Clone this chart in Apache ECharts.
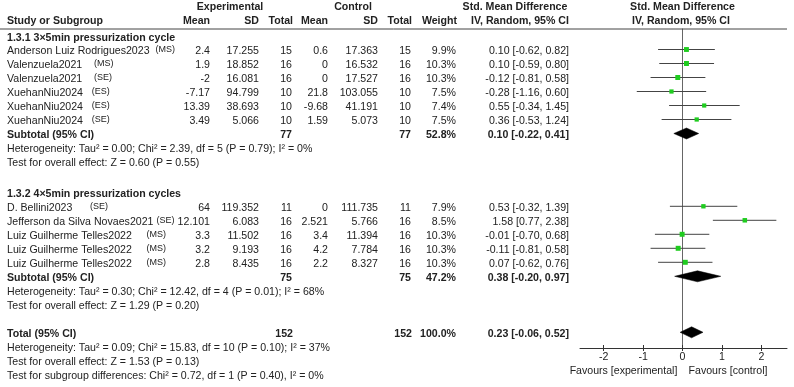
<!DOCTYPE html>
<html><head><meta charset="utf-8">
<script src="https://cdn.jsdelivr.net/npm/echarts@6/dist/echarts.min.js"></script>
<style>html,body{margin:0;padding:0;background:#fff}#c{width:794px;height:387px}</style>
</head><body><div id="c"></div>
<script>
// ---------- DATA ----------
const group1Title = '1.3.1 3×5min pressurization cycle';
const names1 = ['Anderson Luiz Rodrigues2023', 'Valenzuela2021', 'Valenzuela2021', 'XuehanNiu2024', 'XuehanNiu2024', 'XuehanNiu2024'];
const tags1 = ['(MS)', '(MS)', '(SE)', '(ES)', '(ES)', '(SE)'];
const expMean1 = ['2.4', '1.9', '-2', '-7.17', '13.39', '3.49'];
const expSD1 = ['17.255', '18.852', '16.081', '94.799', '38.693', '5.066'];
const expN1 = [15, 16, 16, 10, 10, 10];
const ctlMean1 = ['0.6', '0', '0', '21.8', '-9.68', '1.59'];
const ctlSD1 = ['17.363', '16.532', '17.527', '103.055', '41.191', '5.073'];
const ctlN1 = [15, 16, 16, 10, 10, 10];
const weight1 = [9.9, 10.3, 10.3, 7.5, 7.4, 7.5];
const smd1 = [0.10, 0.10, -0.12, -0.28, 0.55, 0.36];
const lo1 = [-0.62, -0.59, -0.81, -1.16, -0.34, -0.53];
const hi1 = [0.82, 0.80, 0.58, 0.60, 1.45, 1.24];
const sub1 = { nE: 77, nC: 77, w: 52.8, smd: 0.10, lo: -0.22, hi: 0.41 };
const het1 = 'Heterogeneity: Tau² = 0.00; Chi² = 2.39, df = 5 (P = 0.79); I² = 0%';
const eff1 = 'Test for overall effect: Z = 0.60 (P = 0.55)';

const group2Title = '1.3.2 4×5min pressurization cycles';
const names2 = ['D. Bellini2023', 'Jefferson da Silva Novaes2021', 'Luiz Guilherme Telles2022', 'Luiz Guilherme Telles2022', 'Luiz Guilherme Telles2022'];
const tags2 = ['(SE)', '(SE)', '(MS)', '(MS)', '(MS)'];
const expMean2 = ['64', '12.101', '3.3', '3.2', '2.8'];
const expSD2 = ['119.352', '6.083', '11.502', '9.193', '8.435'];
const expN2 = [11, 16, 16, 16, 16];
const ctlMean2 = ['0', '2.521', '3.4', '4.2', '2.2'];
const ctlSD2 = ['111.735', '5.766', '11.394', '7.784', '8.327'];
const ctlN2 = [11, 16, 16, 16, 16];
const weight2 = [7.9, 8.5, 10.3, 10.3, 10.3];
const smd2 = [0.53, 1.58, -0.01, -0.11, 0.07];
const lo2 = [-0.32, 0.77, -0.70, -0.81, -0.62];
const hi2 = [1.39, 2.38, 0.68, 0.58, 0.76];
const sub2 = { nE: 75, nC: 75, w: 47.2, smd: 0.38, lo: -0.20, hi: 0.97 };
const het2 = 'Heterogeneity: Tau² = 0.30; Chi² = 12.42, df = 4 (P = 0.01); I² = 68%';
const eff2 = 'Test for overall effect: Z = 1.29 (P = 0.20)';

const total = { nE: 152, nC: 152, w: 100.0, smd: 0.23, lo: -0.06, hi: 0.52 };
const hetT = 'Heterogeneity: Tau² = 0.09; Chi² = 15.83, df = 10 (P = 0.10); I² = 37%';
const effT = 'Test for overall effect: Z = 1.53 (P = 0.13)';
const subDiff = 'Test for subgroup differences: Chi² = 0.72, df = 1 (P = 0.40), I² = 0%';

const xTicks = [-2, -1, 0, 1, 2];
const favLeft = 'Favours [experimental]';
const favRight = 'Favours [control]';

// ---------- LAYOUT ----------
const ROW_Y0 = 35.5, ROW_H = 14, TXT_DY = 1.5;
const COL = { name: 7, eMean: 210, eSD: 259, eN: 292, cMean: 328, cSD: 378, cN: 411, w: 456, ci: 569 };
const FONT = "'Liberation Sans', Arial, sans-serif";
const FS = 10.6;
const TXT = '#222';
const GAPS1 = ['  ', '    ', '    ', '   ', '   ', '   '];
const GAPS2 = ['      ', ' ', '     ', '     ', '     '];

const fmtCI = (m, l, h) => m.toFixed(2) + ' [' + l.toFixed(2) + ', ' + h.toFixed(2) + ']';
const cells = [];
function cell(x, r, text, align, bold, extra) {
  cells.push(Object.assign({ x: x, r: r, text: text, align: align || 'left', bold: !!bold }, extra || {}));
}
// header
cell(230, -2.11, 'Experimental', 'center', true);
cell(353, -2.11, 'Control', 'center', true);
cell(515, -2.11, 'Std. Mean Difference', 'center', true);
cell(682.5, -2.11, 'Std. Mean Difference', 'center', true);
cell(COL.name, -1.11, 'Study or Subgroup', 'left', true);
cell(COL.eMean, -1.11, 'Mean', 'right', true);
cell(COL.eSD, -1.11, 'SD', 'right', true);
cell(COL.eN + 1, -1.11, 'Total', 'right', true);
cell(COL.cMean, -1.11, 'Mean', 'right', true);
cell(COL.cSD, -1.11, 'SD', 'right', true);
cell(COL.cN + 1, -1.11, 'Total', 'right', true);
cell(COL.w + 1, -1.11, 'Weight', 'right', true);
cell(520, -1.11, 'IV, Random, 95% CI', 'center', true);
cell(681, -1.11, 'IV, Random, 95% CI', 'center', true);

const forest = []; // [row, smd, lo, hi, weight, kind]
function addGroup(startR, title, names, tags, gaps, eM, eS, eN, cM, cS, cN, w, s, l, h, sub, het, eff) {
  cell(COL.name, startR - 1 + 0.05, title, 'left', true);
  names.forEach((n, i) => {
    const r = startR + i;
    cell(COL.name, r, n, 'left', false, { tag: tags[i], gap: gaps[i] });
    cell(COL.eMean, r, eM[i], 'right');
    cell(COL.eSD, r, eS[i], 'right');
    cell(COL.eN, r, String(eN[i]), 'right');
    cell(COL.cMean, r, cM[i], 'right');
    cell(COL.cSD, r, cS[i], 'right');
    cell(COL.cN, r, String(cN[i]), 'right');
    cell(COL.w, r, w[i].toFixed(1) + '%', 'right');
    cell(COL.ci, r, fmtCI(s[i], l[i], h[i]), 'right');
    forest.push([r, s[i], l[i], h[i], w[i], 0]);
  });
  const rs = startR + names.length;
  cell(COL.name, rs, 'Subtotal (95% CI)', 'left', true);
  cell(COL.eN, rs, String(sub.nE), 'right', true);
  cell(COL.cN, rs, String(sub.nC), 'right', true);
  cell(COL.w, rs, sub.w.toFixed(1) + '%', 'right', true);
  cell(COL.ci, rs, fmtCI(sub.smd, sub.lo, sub.hi), 'right', true);
  forest.push([rs, sub.smd, sub.lo, sub.hi, sub.w, 1]);
  cell(COL.name, rs + 1, het, 'left');
  cell(COL.name, rs + 2, eff, 'left');
}
addGroup(1, group1Title, names1, tags1, GAPS1,
  expMean1, expSD1, expN1, ctlMean1, ctlSD1, ctlN1, weight1, smd1, lo1, hi1, sub1, het1, eff1);
addGroup(12.2, group2Title, names2, tags2, GAPS2,
  expMean2, expSD2, expN2, ctlMean2, ctlSD2, ctlN2, weight2, smd2, lo2, hi2, sub2, het2, eff2);
const rT = 21.2;
cell(COL.name, rT, 'Total (95% CI)', 'left', true);
cell(COL.eN + 1, rT, String(total.nE), 'right', true);
cell(COL.cN + 1, rT, String(total.nC), 'right', true);
cell(COL.w, rT, total.w.toFixed(1) + '%', 'right', true);
cell(COL.ci, rT, fmtCI(total.smd, total.lo, total.hi), 'right', true);
forest.push([rT, total.smd, total.lo, total.hi, total.w, 1]);
cell(COL.name, rT + 1, hetT, 'left');
cell(COL.name, rT + 2, effT, 'left');
cell(COL.name, rT + 3, subDiff, 'left');
cell(623.5, 23.85, favLeft, 'center');
cell(728, 23.85, favRight, 'center');

const W = 794, H = 387;
const chart = echarts.init(document.getElementById('c'), null, { renderer: 'canvas' });
const plotTop = 29, plotBottom = 348;
chart.setOption({
  animation: false,
  backgroundColor: '#fff',
  grid: [
    { left: 0, right: 0, top: 0, bottom: 0 },
    { left: 580, right: 7, top: plotTop, bottom: H - plotBottom }
  ],
  xAxis: [
    { gridIndex: 0, type: 'value', min: 0, max: W, show: false },
    { gridIndex: 1, type: 'value', min: -2.6, max: 2.65, position: 'bottom',
      axisLine: { show: true, onZero: false, lineStyle: { color: '#333', width: 1 } },
      axisTick: { show: true, length: 3, customValues: xTicks, lineStyle: { color: '#333' } },
      axisLabel: { show: true, customValues: xTicks, margin: 4, color: TXT, fontSize: FS, fontFamily: FONT },
      splitLine: { show: false } },
    { gridIndex: 1, type: 'value', min: -2.6, max: 2.65, position: 'bottom',
      axisLine: { show: false, onZero: false },
      axisTick: { show: true, inside: true, length: 3, customValues: xTicks, lineStyle: { color: '#333' } },
      axisLabel: { show: false }, splitLine: { show: false } }
  ],
  yAxis: [
    { gridIndex: 0, type: 'value', inverse: true, min: (0 - ROW_Y0) / ROW_H, max: (H - ROW_Y0) / ROW_H, show: false },
    { gridIndex: 1, type: 'value', inverse: true, min: (plotTop - ROW_Y0) / ROW_H, max: (plotBottom - ROW_Y0) / ROW_H,
      axisLine: { show: true, onZero: true, lineStyle: { color: '#666', width: 1 } },
      axisTick: { show: false }, axisLabel: { show: false }, splitLine: { show: false } }
  ],
  graphic: [{ type: 'line', shape: { x1: 0, y1: plotTop, x2: 787, y2: plotTop }, style: { stroke: '#444', lineWidth: 1 }, z: 10 }],
  series: [
    {
      type: 'custom', xAxisIndex: 0, yAxisIndex: 0, silent: true,
      data: cells.map(c => [c.x, c.r]),
      renderItem: function (params, api) {
        const c = cells[params.dataIndex];
        const p = api.coord([api.value(0), api.value(1)]);
        let text = c.text.replace(/[{}|]/g, '');
        const rich = {
          n: { fontSize: FS, fontFamily: FONT, fill: TXT, fontWeight: c.bold ? 'bold' : 'normal', lineHeight: 12 },
          s: { fontSize: 9, fontFamily: FONT, fill: TXT, verticalAlign: 'top', lineHeight: 10 }
        };
        let t = '{n|' + text + '}';
        if (c.tag) t = '{n|' + text + (c.gap || '') + '}{s|' + c.tag + '}';
        return {
          type: 'text', x: p[0], y: p[1] + TXT_DY,
          style: { text: t, rich: rich, align: c.align, verticalAlign: 'middle',
            fontSize: FS, fontFamily: FONT, fontWeight: c.bold ? 'bold' : 'normal', fill: TXT }
        };
      }
    },
    {
      type: 'custom', xAxisIndex: 1, yAxisIndex: 1, silent: true, z: 5,
      data: forest,
      renderItem: function (params, api) {
        const r = api.value(0), m = api.value(1), l = api.value(2), h = api.value(3), w = api.value(4), kind = api.value(5);
        const pm = api.coord([m, r]), pl = api.coord([l, r]), ph = api.coord([h, r]);
        if (kind === 1) {
          const hh = 5.5;
          return { type: 'polygon', shape: { points: [[pl[0], pm[1]], [pm[0], pm[1] - hh], [ph[0], pm[1]], [pm[0], pm[1] + hh]] },
            style: { fill: '#000', stroke: '#000', lineWidth: 0.5 } };
        }
        const sz = Math.sqrt(w) * 1.55;
        return { type: 'group', children: [
          { type: 'line', shape: { x1: pl[0], y1: pm[1], x2: ph[0], y2: pm[1] }, style: { stroke: '#444', lineWidth: 1 } },
          { type: 'rect', shape: { x: pm[0] - sz / 2, y: pm[1] - sz / 2, width: sz, height: sz }, style: { fill: '#1fcc1f' } }
        ] };
      }
    }
  ]
});
</script></body></html>
